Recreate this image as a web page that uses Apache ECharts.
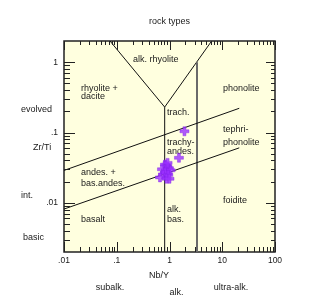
<!DOCTYPE html>
<html>
<head>
<meta charset="utf-8">
<title>rock types</title>
<script src="https://cdn.jsdelivr.net/npm/echarts@6/dist/echarts.min.js"></script>
<style>
html, body { margin: 0; padding: 0; background: #fff; }
#chart { width: 335px; height: 300px; }
</style>
</head>
<body>
<div id="chart"></div>
<script>
// samples
var nbY  = [1.92, 1.51, 0.82, 0.90, 0.98, 0.72, 0.86, 1.05, 0.82, 0.76, 0.95, 0.66, 0.88, 1.00, 0.92];
var zrTi = [0.104, 0.0437, 0.035, 0.033, 0.031, 0.030, 0.029, 0.029, 0.027, 0.025, 0.025, 0.023, 0.022, 0.022, 0.037];

// field boundaries [Nb/Y, Zr/Ti]
var leftArm   = [[0.0745, 2], [0.81, 0.23]];
var rightArm  = [[0.81, 0.23], [6.3, 2]];
var alkLine   = [[0.81, 0.002], [0.81, 0.23]];
var ultraLine = [[3.32, 0.002], [3.32, 1.0]];
var upperLine = [[0.01, 0.0289], [21, 0.221]];
var lowerLine = [[0.01, 0.00816], [21, 0.0605]];

// axes
var xMin = 0.01, xMax = 100, yMin = 0.002, yMax = 2;
var xLabels = {'-2': '.01', '-1': '.1', '0': '1', '1': '10', '2': '100'};
var yLabels = {'-2': '.01', '-1': '.1', '0': '1'};
var xDecades = [0.01, 0.1, 1, 10, 100];
var yDecades = [0.001, 0.01, 0.1, 1];
var mantissa = [2, 3, 4, 5, 6, 7, 8, 9];

function tickList(decades, lo, hi) {
	var out = [];
	decades.forEach(function (d) {
		if (d >= lo && d <= hi) out.push({ v: d, major: true });
		mantissa.forEach(function (m) {
			var v = d * m;
			if (v > lo * 1.0001 && v < hi * 0.9999) out.push({ v: v, major: false });
		});
	});
	return out;
}
var xTicks = tickList(xDecades, xMin, xMax);
var yTicks = tickList(yDecades, yMin, yMax);

function logLabel(map) {
	return function (v) {
		var e = Math.log10(v);
		var r = Math.round(e);
		if (Math.abs(e - r) > 1e-6) return '';
		return map[String(r)] || '';
	};
}

function renderTicks(params, api) {
	var kids = [];
	var p0 = api.coord([xMin, yMin]);
	var p1 = api.coord([xMax, yMax]);
	var left = p0[0], bottom = p0[1], right = p1[0], top = p1[1];
	function seg(a, b, c, d) {
		kids.push({ type: 'line', shape: { x1: a, y1: b, x2: c, y2: d }, style: { stroke: '#222', lineWidth: 1 } });
	}
	xTicks.forEach(function (t) {
		var px = Math.round(api.coord([t.v, yMin])[0]) + 0.5;
		seg(px, bottom, px, bottom - (t.major ? 10 : 5));
		seg(px, top, px, top + (t.major ? 9 : 4));
	});
	yTicks.forEach(function (t) {
		var py = Math.round(api.coord([xMin, t.v])[1]) + 0.5;
		seg(left, py, left + (t.major ? 11 : 6), py);
		seg(right, py, right - (t.major ? 9 : 4), py);
	});
	return { type: 'group', children: kids };
}

function bound(data, color, width) {
	return {
		type: 'line', data: data, symbol: 'none', silent: true, z: 2,
		lineStyle: { color: color, width: width }
	};
}

var font = 'Liberation Sans, Arial, sans-serif';
function txt(s, x, y, align) {
	return {
		type: 'text', x: x, y: y, silent: true,
		style: { text: s, fill: '#1a1a1a', font: '9px ' + font, textAlign: align || 'left', textVerticalAlign: 'middle' }
	};
}

var chart = echarts.init(document.getElementById('chart'));
var plus = 'path://M3,0H6V3H9V6H6V9H3V6H0V3H3Z';

chart.setOption({
	animation: false,
	grid: {
		left: 64, right: 60, top: 41, bottom: 48,
		show: true, backgroundColor: '#ffffdf', borderColor: '#222', borderWidth: 1.5
	},
	xAxis: {
		type: 'log', logBase: 10, min: xMin, max: xMax,
		axisLine: { show: false }, axisTick: { show: false }, splitLine: { show: false },
		axisLabel: { formatter: logLabel(xLabels), margin: 4, fontSize: 8.5, color: '#1a1a1a', fontFamily: font }
	},
	yAxis: {
		type: 'log', logBase: 10, min: yMin, max: yMax,
		axisLine: { show: false }, axisTick: { show: false }, splitLine: { show: false },
		axisLabel: { formatter: logLabel(yLabels), margin: 6, fontSize: 8.5, color: '#1a1a1a', fontFamily: font }
	},
	series: [
		bound(leftArm, '#111', 1),
		bound(rightArm, '#111', 1),
		bound(alkLine, '#111', 1),
		bound(ultraLine, '#6a6a6a', 2),
		bound(upperLine, '#111', 1),
		bound(lowerLine, '#111', 1),
		{
			type: 'custom', renderItem: renderTicks, data: [[1, 0.1]], silent: true, clip: false, z: 3
		},
		{
			type: 'scatter', z: 5, symbol: plus, symbolSize: 9,
			itemStyle: { color: '#9b30ff', borderColor: '#8020e8', borderWidth: 0.5 },
			data: nbY.map(function (x, i) { return [x, zrTi[i]]; })
		}
	],
	graphic: [
		txt('rock types', 169.5, 22, 'center'),
		txt('evolved', 21, 110),
		txt('Zr/Ti', 33, 148),
		txt('int.', 21, 196),
		txt('basic', 23, 238),
		txt('Nb/Y', 159, 276, 'center'),
		txt('subalk.', 110, 288, 'center'),
		txt('alk.', 176.5, 293, 'center'),
		txt('ultra-alk.', 231, 288, 'center'),
		txt('alk. rhyolite', 133, 60),
		txt('rhyolite +', 81, 89),
		txt('dacite', 81, 97),
		txt('phonolite', 223, 89),
		txt('trach.', 167, 113),
		txt('tephri-', 223, 130),
		txt('phonolite', 223, 143),
		txt('trachy-', 167, 143),
		txt('andes.', 167, 152),
		txt('andes. +', 81, 173),
		txt('bas.andes.', 81, 184),
		txt('foidite', 223, 201),
		txt('alk.', 167, 210),
		txt('bas.', 167, 220),
		txt('basalt', 81, 220)
	]
});
</script>
</body>
</html>
